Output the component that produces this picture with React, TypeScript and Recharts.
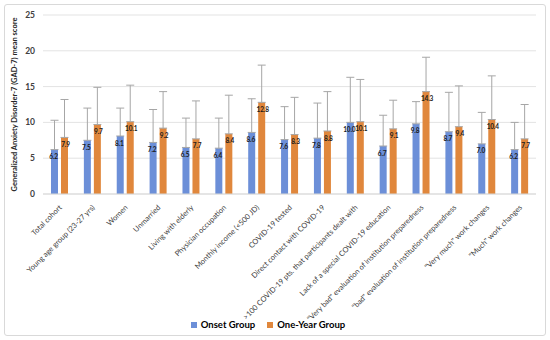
import React from "react";
import { BarChart, Bar, XAxis, YAxis, CartesianGrid, Legend, ErrorBar, LabelList } from "recharts";

const categories = [
  "Total cohort",
  "Young age group (23-27 yrs)",
  "Women",
  "Unmarried",
  "Living with elderly",
  "Physician occupation",
  "Monthly income (<500 JD)",
  "COVID-19 tested",
  "Direct contact with COVID-19",
  ">100 COVID-19 pts. that participants dealt with",
  "Lack of a special COVID-19 education",
  "\"Very bad\" evaluation of institution preparedness",
  "\"bad\" evaluation of institution preparedness",
  "\"Very much\" work changes",
  "\"Much\" work changes",
];
const onsetMean = [6.2, 7.5, 8.1, 7.2, 6.5, 6.4, 8.6, 7.6, 7.8, 10.0, 6.7, 9.8, 8.7, 7.0, 6.2];
const onsetSD = [4.1, 4.5, 3.9, 4.6, 4.1, 4.2, 4.7, 4.6, 4.9, 6.3, 4.3, 3.1, 5.5, 4.4, 3.8];
const oneYearMean = [7.9, 9.7, 10.1, 9.2, 7.7, 8.4, 12.8, 8.3, 8.8, 10.1, 9.1, 14.3, 9.4, 10.4, 7.7];
const oneYearSD = [5.3, 5.2, 5.1, 5.1, 5.3, 5.4, 5.2, 5.2, 5.5, 5.9, 4.0, 4.8, 5.7, 6.1, 4.8];
const yTicks = [0, 5, 10, 15, 20, 25];
const seriesNames = ["Onset Group", "One-Year Group"];
const seriesColors = ["#6c8fd8", "#e0873c"];

const data = categories.map((c, i) => ({
  name: c,
  onset: onsetMean[i],
  onsetErr: [0, onsetSD[i]],
  oneYear: oneYearMean[i],
  oneYearErr: [0, oneYearSD[i]],
}));

const FONT = "Lato, 'Open Sans', sans-serif";

const XTick = (props: any) => {
  const { x, y, payload } = props;
  return (
    <text
      x={x + 3}
      y={y + 6}
      transform={`rotate(-45 ${x + 3} ${y + 6})`}
      textAnchor="end"
      fontSize={7.5}
      fill="#404040"
      fontFamily={FONT}
    >
      {payload.value}
    </text>
  );
};

const LegendContent = () => (
  <div style={{ display: "flex", justifyContent: "center", alignItems: "center", gap: 12, fontFamily: FONT }}>
    {seriesNames.map((n, i) => (
      <span key={n} style={{ display: "inline-flex", alignItems: "center" }}>
        <span style={{ width: 6, height: 6, background: seriesColors[i], display: "inline-block", marginRight: 4 }} />
        <span style={{ color: "#000", fontWeight: 700, fontSize: 9.5 }}>{n}</span>
      </span>
    ))}
  </div>
);

const labelStyle = { fontSize: 6.5, fontWeight: 700, fill: "#1a1a1a", fontFamily: FONT, letterSpacing: -0.15 };

export default function App() {
  return (
    <div style={{ position: "absolute", left: 0, top: 0, width: 550, height: 340, background: "#fff" }}>
      <div
        style={{
          position: "absolute",
          left: 4,
          top: 4,
          width: 540,
          height: 330,
          border: "1px solid #d9d9d9",
          borderRadius: 3,
        }}
      />
      <div style={{ position: "absolute", left: 0, top: 0 }}>
        <BarChart
          width={550}
          height={340}
          data={data}
          margin={{ top: 15, right: 14, left: 0, bottom: 10 }}
          barSize={7}
          barGap={3}
          style={{ fontFamily: FONT }}
        >
          <CartesianGrid vertical={false} stroke="#e3e3e3" />
          <XAxis
            dataKey="name"
            interval={0}
            tick={<XTick />}
            tickLine={false}
            axisLine={{ stroke: "#d9d9d9" }}
            height={125}
          />
          <YAxis
            width={43}
            domain={[0, 25]}
            ticks={yTicks}
            tickLine={false}
            axisLine={false}
            tick={{ fontSize: 8.5, fill: "#404040", fontWeight: 700, fontFamily: FONT }}
            label={{
              value: "Generalized Anxiety Disorder-7 (GAD-7) mean score",
              angle: -90,
              position: "insideLeft",
              offset: 14,
              style: { fontSize: 7.5, fontWeight: 700, fill: "#262626", textAnchor: "middle", fontFamily: FONT },
            }}
          />
          <Legend verticalAlign="bottom" content={<LegendContent />} />
          <Bar dataKey="onset" name={seriesNames[0]} fill={seriesColors[0]} isAnimationActive={false}>
            <ErrorBar dataKey="onsetErr" width={4} stroke="#a6a6a6" strokeWidth={1} />
            <LabelList
              dataKey="onset"
              position="insideTop"
              offset={5}
              dx={-1}
              formatter={(v: number) => v.toFixed(1)}
              style={labelStyle}
            />
          </Bar>
          <Bar dataKey="oneYear" name={seriesNames[1]} fill={seriesColors[1]} isAnimationActive={false}>
            <ErrorBar dataKey="oneYearErr" width={4} stroke="#a6a6a6" strokeWidth={1} />
            <LabelList
              dataKey="oneYear"
              position="insideTop"
              offset={5}
              dx={1}
              formatter={(v: number) => v.toFixed(1)}
              style={labelStyle}
            />
          </Bar>
        </BarChart>
      </div>
    </div>
  );
}
